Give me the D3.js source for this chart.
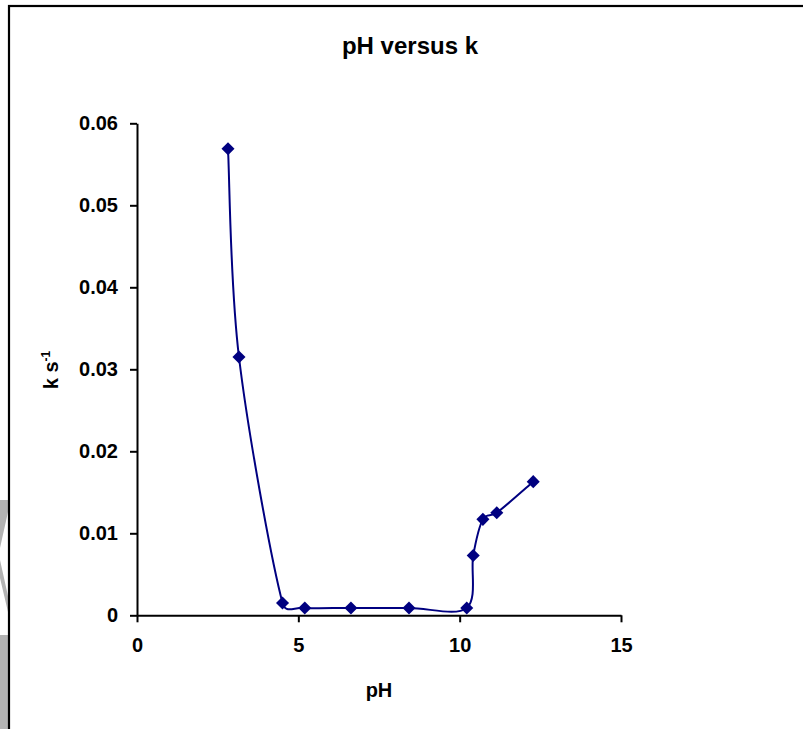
<!DOCTYPE html>
<html>
<head>
<meta charset="utf-8">
<script src="https://cdn.jsdelivr.net/npm/d3@7"></script>
<style>
  html, body { margin: 0; padding: 0; background: #fff; }
  svg text { font-family: "Liberation Sans", Arial, sans-serif; font-weight: bold; fill: #000; }
</style>
</head>
<body>
<script>
// ---- data ----
const pH = [2.82, 3.16, 4.51, 5.2, 6.63, 8.43, 10.22, 10.42, 10.72, 11.15, 12.28];
const k  = [0.0569, 0.0315, 0.0015, 0.0009, 0.0009, 0.0009, 0.0009, 0.0073, 0.0117, 0.0125, 0.0163];
const xTicks = [0, 5, 10, 15];
const yTicks = [0, 0.01, 0.02, 0.03, 0.04, 0.05, 0.06];
const title = "pH versus k";
const xTitle = "pH";

const W = 803, H = 729;
const svg = d3.select("body").append("svg").attr("width", W).attr("height", H);

// background watermark fragments outside frame
svg.append("path").attr("d", "M0,500 L8,500 L8,512 L0,548 Z M0,560 L8,596 L8,612 L0,578 Z").attr("fill", "#b3b3b3");
svg.append("rect").attr("x", 0).attr("y", 635).attr("width", 8).attr("height", H - 635).attr("fill", "#b3b3b3");

// chart frame
svg.append("rect").attr("x", 9).attr("y", 6).attr("width", W + 20).attr("height", H + 20)
  .attr("fill", "none").attr("stroke", "#000").attr("stroke-width", 2.2);

const x = d3.scaleLinear().domain([0, 15]).range([137, 621]);
const y = d3.scaleLinear().domain([0, 0.06]).range([615.3, 123.3]);

// title
svg.append("text").attr("x", 410).attr("y", 54).attr("text-anchor", "middle")
  .style("font-size", "24px").text(title);

// axes
const fmtY = d => d === 0 ? "0" : d3.format(".2f")(d);
const yAxis = svg.append("g").attr("transform", `translate(${x(0)},0)`)
  .call(d3.axisLeft(y).tickValues(yTicks).tickFormat(fmtY).tickSize(7).tickSizeOuter(0).tickPadding(12));
const xAxis = svg.append("g").attr("transform", `translate(0,${y(0)})`)
  .call(d3.axisBottom(x).tickValues(xTicks).tickFormat(d3.format("d")).tickSize(7).tickSizeOuter(0).tickPadding(16));
[yAxis, xAxis].forEach(g => {
  g.select(".domain").attr("stroke", "#000").attr("stroke-width", 2);
  g.selectAll(".tick line").attr("stroke", "#000").attr("stroke-width", 2);
  g.selectAll(".tick text").style("font-size", "20px").style("font-family", "'Liberation Sans', Arial, sans-serif").style("font-weight", "bold").attr("fill", "#000");
});

// axis titles
svg.append("text").attr("x", 379).attr("y", 697).attr("text-anchor", "middle")
  .style("font-size", "20px").text(xTitle);
const yl = svg.append("text").attr("transform", "translate(58,370) rotate(-90)").attr("text-anchor", "middle")
  .style("font-size", "20px");
yl.append("tspan").text("k s");
yl.append("tspan").attr("dy", -8).style("font-size", "12px").text("-1");

// Excel-style smoothed line through scaled points
const pts = pH.map((v, i) => [v, k[i]]);
const P = pts.map(d => [x(d[0]), y(d[1])]);
const dist = (a, b) => Math.hypot(a[0] - b[0], a[1] - b[1]);
const path = d3.path();
path.moveTo(P[0][0], P[0][1]);
for (let i = 0; i < P.length - 1; i++) {
  const p0 = P[Math.max(0, i - 1)], p1 = P[i], p2 = P[i + 1], p3 = P[Math.min(P.length - 1, i + 2)];
  const d12 = dist(p1, p2), d02 = dist(p0, p2), d13 = dist(p1, p3);
  let f1 = 1 / 6, f2 = 1 / 6;
  if (d02 / 6 >= d12 / 2 && d02 > 0) f1 = d12 / d02 / 2;
  if (d13 / 6 >= d12 / 2 && d13 > 0) f2 = d12 / d13 / 2;
  const c1 = [p1[0] + f1 * (p2[0] - p0[0]), p1[1] + f1 * (p2[1] - p0[1])];
  const c2 = [p2[0] - f2 * (p3[0] - p1[0]), p2[1] - f2 * (p3[1] - p1[1])];
  path.bezierCurveTo(c1[0], c1[1], c2[0], c2[1], p2[0], p2[1]);
}
svg.append("path").attr("d", path.toString()).attr("fill", "none").attr("stroke", "#000080").attr("stroke-width", 2);

svg.selectAll(".m").data(pts).enter().append("path")
  .attr("d", d3.symbol().type(d3.symbolSquare).size(85))
  .attr("transform", d => `translate(${x(d[0])},${y(d[1])}) rotate(45)`)
  .attr("fill", "#000080");
</script>
</body>
</html>
